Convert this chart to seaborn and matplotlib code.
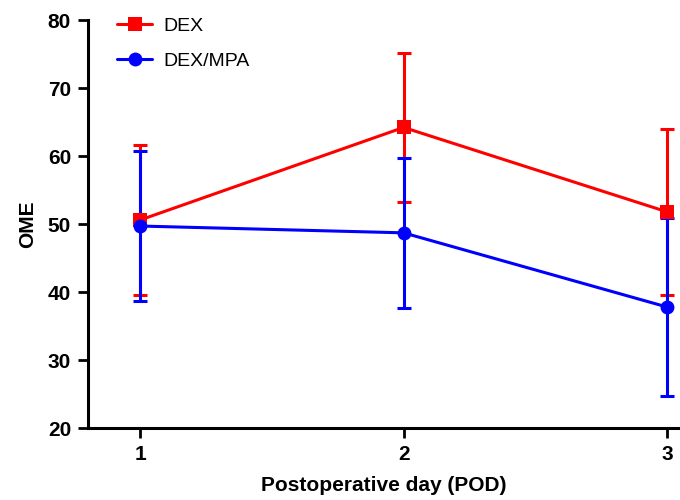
import pandas as pd
import matplotlib
matplotlib.use("Agg")
import matplotlib.pyplot as plt
import seaborn as sns

# values
days = [1, 2, 3]
dex_mean = [50.6, 64.2, 51.8]
dex_err = [11.0, 10.9, 12.2]
mpa_mean = [49.7, 48.7, 37.8]
mpa_err = [11.0, 11.0, 13.1]

df = pd.DataFrame({
    "day": days * 2,
    "OME": dex_mean + mpa_mean,
    "err": dex_err + mpa_err,
    "group": ["DEX"] * 3 + ["DEX/MPA"] * 3,
})

sns.set_style("ticks")
plt.rcParams["font.family"] = ["Liberation Sans", "DejaVu Sans"]
plt.rcParams["text.color"] = "black"
plt.rcParams["axes.labelcolor"] = "black"
plt.rcParams["xtick.color"] = "black"
plt.rcParams["ytick.color"] = "black"
plt.rcParams["axes.edgecolor"] = "black"

fig = plt.figure(figsize=(6.8, 5), dpi=100)
ax = fig.add_axes([0.129, 0.144, 0.871, 0.816])

colors = {"DEX": "#ff0000", "DEX/MPA": "#0000ff"}
markers = {"DEX": "s", "DEX/MPA": "o"}
msize = {"DEX": 9.5, "DEX/MPA": 10}

for g in ["DEX", "DEX/MPA"]:
    sub = df[df["group"] == g]
    ax.errorbar(sub["day"], sub["OME"], yerr=sub["err"], fmt="none",
                ecolor=colors[g], elinewidth=2.2, capsize=5, capthick=2.2, zorder=2)
    sns.lineplot(data=sub, x="day", y="OME", color=colors[g], marker=markers[g],
                 markersize=msize[g], markeredgewidth=0, linewidth=2.2, label=g,
                 ax=ax, zorder=3)

ax.set_xlim(0.8, 3.05)
ax.set_ylim(20, 80)
ax.set_xticks(days)
ax.set_yticks([20, 30, 40, 50, 60, 70, 80])
sns.despine(ax=ax)
for s in ["left", "bottom"]:
    ax.spines[s].set_linewidth(2.2)
ax.tick_params(width=2, length=7, labelsize=15, pad=5)
for lab in ax.get_xticklabels() + ax.get_yticklabels():
    lab.set_fontweight("bold")
ax.set_xlabel("Postoperative day (POD)", fontsize=15, fontweight="bold", labelpad=9)
ax.set_ylabel("OME", fontsize=15, fontweight="bold", labelpad=8)

ax.legend(loc="upper left", bbox_to_anchor=(0.02, 1.05), frameon=False,
          fontsize=14, handlelength=1.8, handletextpad=0.6, labelspacing=0.9)

fig.savefig("out.png", dpi=100)
